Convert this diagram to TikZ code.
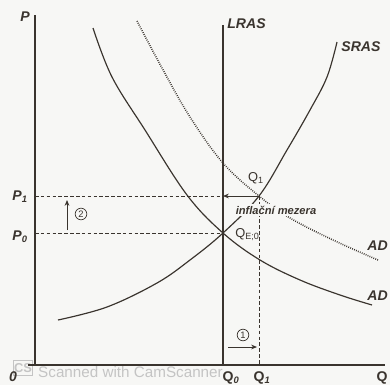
\documentclass[tikz,border=0pt]{standalone}
\usepackage{fontspec}
\setmainfont{Liberation Sans}
\usetikzlibrary{positioning,arrows.meta}
\definecolor{ink}{HTML}{3A342E}
\definecolor{paper}{HTML}{F7F7F5}
\definecolor{scan}{HTML}{C4C4C4}
\tikzset{
  axis/.style={line width=0.9pt, ink},
  curve/.style={line width=1pt, ink},
  shifted/.style={line width=1.3pt, ink, dash pattern=on 0.7pt off 1.1pt},
  guide/.style={line width=0.7pt, ink, dash pattern=on 3pt off 2pt},
  shiftarrow/.style={line width=0.7pt, ink, -{Stealth[length=5pt,width=4pt]}},
  axlabel/.style={font=\fontsize{12}{12}\selectfont\bfseries\itshape, text=ink, inner sep=1pt},
  qlabel/.style={font=\fontsize{12}{12}\selectfont\bfseries, text=ink, inner sep=1pt},
  ptlabel/.style={font=\fontsize{11}{11}\selectfont, text=ink, inner sep=1pt},
  stepno/.style={draw=ink, circle, line width=0.6pt, inner sep=1pt,
    font=\fontsize{8}{8}\selectfont, text=ink},
}

\begin{document}
\begin{tikzpicture}[x=0.03cm,y=-0.03cm]
\fill[paper] (0,0) rectangle (390,385);
\useasboundingbox (0,0) rectangle (390,385);

% ---- scanner stamp ----
\node[draw=scan, line width=0.9pt, minimum width=0.55cm, minimum height=0.45cm,
  inner sep=0pt, text=scan, font=\fontsize{11}{11}\selectfont\bfseries] (cs) at (23,368) {CS};
\node[text=scan, font=\fontsize{13}{13}\selectfont, anchor=west, inner sep=0pt]
  (camscan) at (38,372) {Scanned with CamScanner};

% ---- axes and long run supply ----
\coordinate (Ptop)   at (35,15);
\coordinate (Pbot)   at (35,365);
\coordinate (Qstart) at (28,365);
\coordinate (Qend)   at (385,365);
\coordinate (lrasTop) at (223,25);
\coordinate (lrasBot) at (223,365);
\draw[axis] (Ptop) -- (Pbot);
\draw[axis] (Qstart) -- (Qend);
\draw[axis] (lrasTop) -- (lrasBot);

% ---- equilibria ----
\coordinate (E)    at (223,233);
\coordinate (Q1pt) at (259,196);
\coordinate (P0ax) at (35,233);
\coordinate (P1ax) at (35,196);
\coordinate (L1)   at (223,196);
\coordinate (Q1ax) at (259,365);

% ---- curves ----
\draw[curve] plot[smooth, tension=0.6] coordinates
  {(93,28) (112,77) (145,130) (187,195) (E) (260,260) (300,280) (340,295) (372,305)};
\draw[shifted] plot[smooth, tension=0.6] coordinates
  {(137,21) (162,68) (190,117) (223,163) (Q1pt) (290,218) (333,240) (378,260)};
\draw[curve] plot[smooth, tension=0.6] coordinates
  {(58,320) (107,307) (157,283) (190,260) (E) (Q1pt) (287,150) (310,110) (327,77) (337,42)};

% ---- guides ----
\draw[guide] (P1ax) -- (L1);
\draw[guide] (P0ax) -- (E);
\draw[guide] (Q1pt) -- (Q1ax);
\draw[shiftarrow] (Q1pt) -- (L1);

% ---- labels ----
\node[axlabel] (Plab) at (25,17) {P};
\node[axlabel, anchor=east] (P1lab) at (29,197) {P\textsubscript{1}};
\node[axlabel, anchor=east] (P0lab) at (29,237) {P\textsubscript{0}};
\node[axlabel] (Olab) at (13,377) {0};
\node[qlabel] (Q0lab) at (231,378) {Q\textsubscript{\itshape 0}};
\node[qlabel] (Q1lab) at (262,378) {Q\textsubscript{\itshape 1}};
\node[qlabel] (Qlab) at (382,378) {Q};
\node[axlabel, anchor=west] (lraslab) at (226,24) {LRAS};
\node[axlabel, anchor=west] (sraslab) at (340,47) {SRAS};
\node[axlabel, anchor=west] (ad1lab) at (366,246) {AD};
\node[axlabel, anchor=west] (ad0lab) at (366,296) {AD};
\node[ptlabel] (q1pt) at (256,178) {Q\textsubscript{1}};
\node[ptlabel, anchor=west] (eqpt) at (234,235) {Q\textsubscript{E;0}};
\node[ptlabel, font=\fontsize{9.5}{9.5}\selectfont\bfseries\itshape, fill=paper, inner sep=1.5pt]
  (gap) at (276,210) {inflační mezera};

% ---- shift steps ----
\coordinate (up0) at (67,230);
\coordinate (up1) at (67,200);
\draw[shiftarrow] (up0) -- (up1);
\node[stepno] (s2) at (81,214) {2};
\coordinate (rt0) at (228,347);
\coordinate (rt1) at (257,347);
\draw[shiftarrow] (rt0) -- (rt1);
\node[stepno] (s1) at (243,335) {1};
\end{tikzpicture}
\end{document}
